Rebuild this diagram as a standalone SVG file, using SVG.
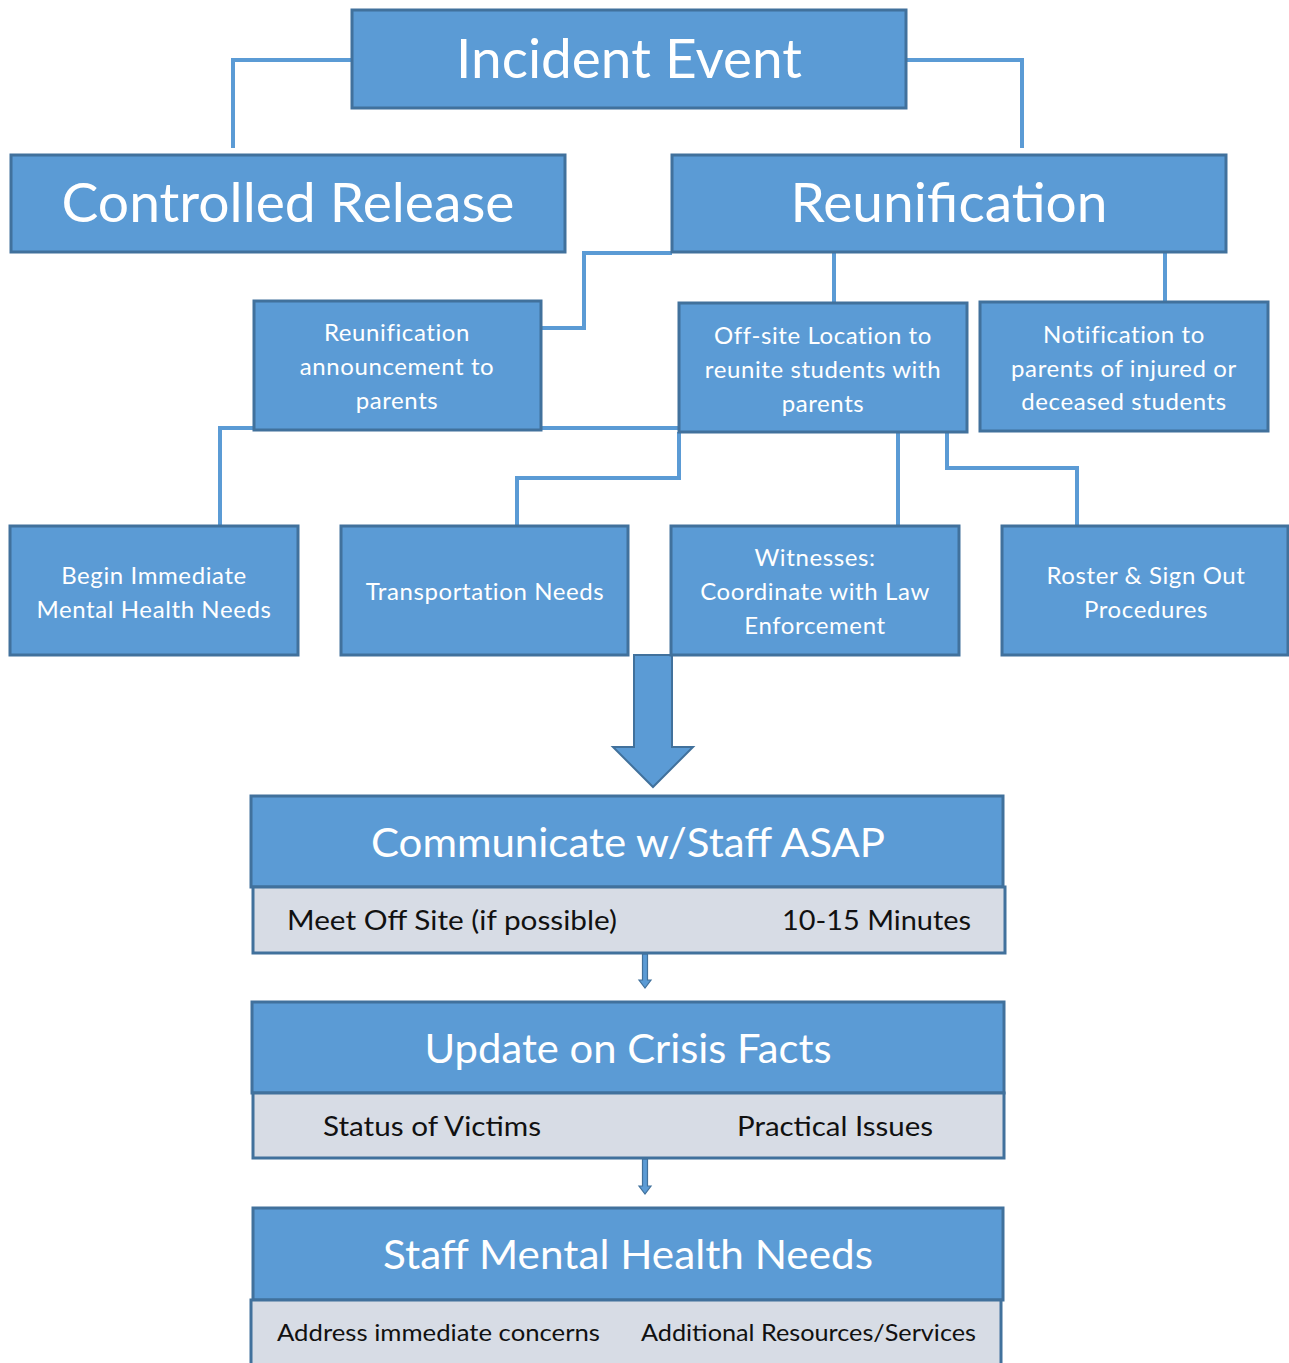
<svg xmlns="http://www.w3.org/2000/svg" width="1289" height="1363" viewBox="0 0 1289 1363">
<style>
.box{fill:#5b9bd5;stroke:#41719c;stroke-width:3}
.band{fill:#d7dce5;stroke:#41719c;stroke-width:3}
.conn{fill:none;stroke:#5b9bd5;stroke-width:4}
.arrow{fill:#5b9bd5;stroke:#41719c;stroke-width:2;stroke-linejoin:miter}
text{font-family:Lato,"Open Sans","Liberation Sans",sans-serif}
.big{fill:#ffffff;font-size:54px;text-anchor:middle}
.mid{fill:#ffffff;font-size:40px;text-anchor:middle}
.sm{fill:#ffffff;font-size:24px;text-anchor:middle;letter-spacing:0.6px}
.dk{fill:#111111;font-size:27px}
.dk2{fill:#111111;font-size:23px}
</style>
<rect width="1289" height="1363" fill="#ffffff"/>
<g id="connectors">
<path class="conn" d="M352,60 H233 V148"/>
<path class="conn" d="M906,60 H1022 V148"/>
<path class="conn" d="M672,253 H584 V328 H541"/>
<path class="conn" d="M834,253 V303"/>
<path class="conn" d="M1165,253 V302"/>
<path class="conn" d="M220,526 V428 H679"/>
<path class="conn" d="M679,432 V478 H517 V526"/>
<path class="conn" d="M898,432 V526"/>
<path class="conn" d="M947,432 V468 H1077 V526"/>
<polygon id="big-arrow" class="arrow" points="634,655 672,655 672,747 693,747 653,787 613,747 634,747"/>
<polygon id="arrow-1" class="arrow" points="642.5,954 647.5,954 647.5,980 651,980 645,988 639,980 642.5,980" style="stroke-width:1.2"/>
<polygon id="arrow-2" class="arrow" points="642.5,1159 647.5,1159 647.5,1186 651,1186 645,1194 639,1186 642.5,1186" style="stroke-width:1.2"/>
</g>
<g id="incident-event">
<rect class="box" x="352" y="10" width="554" height="98"/>
<text class="big" x="629" y="78" textLength="346" lengthAdjust="spacingAndGlyphs">Incident Event</text>
</g>
<g id="controlled-release">
<rect class="box" x="11" y="155" width="554" height="97"/>
<text class="big" x="288" y="222" textLength="453" lengthAdjust="spacingAndGlyphs">Controlled Release</text>
</g>
<g id="reunification">
<rect class="box" x="672" y="155" width="554" height="97"/>
<text class="big" x="949" y="222" textLength="317" lengthAdjust="spacingAndGlyphs">Reunification</text>
</g>
<g id="announcement">
<rect class="box" x="254" y="301" width="287" height="129"/>
<text class="sm" x="397" y="341">Reunification</text>
<text class="sm" x="397" y="375">announcement to</text>
<text class="sm" x="397" y="409">parents</text>
</g>
<g id="offsite">
<rect class="box" x="679" y="303" width="288" height="129"/>
<text class="sm" x="823" y="344">Off-site Location to</text>
<text class="sm" x="823" y="378">reunite students with</text>
<text class="sm" x="823" y="412">parents</text>
</g>
<g id="notification">
<rect class="box" x="980" y="302" width="288" height="129"/>
<text class="sm" x="1124" y="343">Notification to</text>
<text class="sm" x="1124" y="377">parents of injured or</text>
<text class="sm" x="1124" y="410">deceased students</text>
</g>
<g id="begin-immediate">
<rect class="box" x="10" y="526" width="288" height="129"/>
<text class="sm" x="154" y="584">Begin Immediate</text>
<text class="sm" x="154" y="618">Mental Health Needs</text>
</g>
<g id="transportation">
<rect class="box" x="341" y="526" width="287" height="129"/>
<text class="sm" x="485" y="600">Transportation Needs</text>
</g>
<g id="witnesses">
<rect class="box" x="671" y="526" width="288" height="129"/>
<text class="sm" x="815" y="566">Witnesses:</text>
<text class="sm" x="815" y="600">Coordinate with Law</text>
<text class="sm" x="815" y="634">Enforcement</text>
</g>
<g id="roster">
<rect class="box" x="1002" y="526" width="286" height="129"/>
<text class="sm" x="1146" y="584">Roster &amp; Sign Out</text>
<text class="sm" x="1146" y="618">Procedures</text>
</g>
<g id="communicate">
<rect class="box" x="251" y="796" width="752" height="91"/>
<text class="mid" x="628" y="857" textLength="514" lengthAdjust="spacingAndGlyphs">Communicate w/Staff ASAP</text>
<rect class="band" x="253" y="887" width="752" height="66"/>
<text class="dk" x="287" y="930" textLength="330" lengthAdjust="spacingAndGlyphs">Meet Off Site (if possible)</text>
<text class="dk" x="782" y="930" textLength="189" lengthAdjust="spacingAndGlyphs">10-15 Minutes</text>
</g>
<g id="update">
<rect class="box" x="252" y="1002" width="752" height="91"/>
<text class="mid" x="628" y="1063" textLength="407" lengthAdjust="spacingAndGlyphs">Update on Crisis Facts</text>
<rect class="band" x="253" y="1093" width="751" height="65"/>
<text class="dk" x="323" y="1136" textLength="218" lengthAdjust="spacingAndGlyphs">Status of Victims</text>
<text class="dk" x="737" y="1136" textLength="196" lengthAdjust="spacingAndGlyphs">Practical Issues</text>
</g>
<g id="staff-mental-health">
<rect class="box" x="253" y="1208" width="750" height="92"/>
<text class="mid" x="628" y="1269" textLength="490" lengthAdjust="spacingAndGlyphs">Staff Mental Health Needs</text>
<rect class="band" x="251" y="1300" width="750" height="70"/>
<text class="dk2" x="277" y="1341" textLength="323" lengthAdjust="spacingAndGlyphs">Address immediate concerns</text>
<text class="dk2" x="641" y="1341" textLength="335" lengthAdjust="spacingAndGlyphs">Additional Resources/Services</text>
</g>
</svg>
